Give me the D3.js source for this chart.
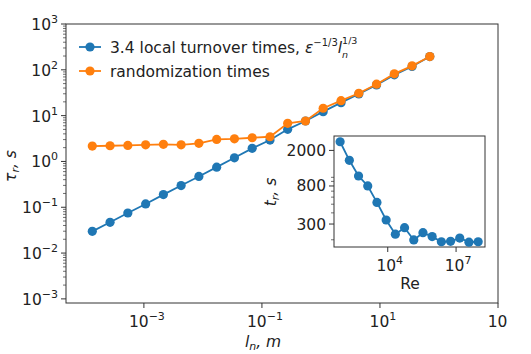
<!DOCTYPE html>
<html>
<head>
<meta charset="utf-8">
<script src="https://cdn.jsdelivr.net/npm/d3@7"></script>
<style>
  body { margin: 0; background: #fff; }
  text { font-family: "DejaVu Sans", sans-serif; fill: #222; }
</style>
</head>
<body>
<div id="chart"></div>
<script>
// scale lengths l_n (m), halving each step
const lengths = [0.0001335, 0.000267, 0.000534, 0.00107, 0.00214, 0.00427, 0.00854, 0.0171, 0.0342, 0.0684,
                 0.137, 0.273, 0.547, 1.09, 2.19, 4.38, 8.75, 17.5, 35, 70];
// local turnover times (s)
const turnover = [0.0298, 0.0469, 0.075, 0.118, 0.189, 0.298, 0.47, 0.75, 1.2, 1.93,
                  2.93, 5.02, 7.63, 12.2, 19.2, 29.8, 46.9, 77.6, 118, 195];
// randomization times (s)
const randomization = [2.16, 2.2, 2.24, 2.31, 2.36, 2.31, 2.48, 3.03, 3.12, 3.29,
                       3.46, 6.79, 7.63, 14.5, 21.2, 30.8, 48.5, 81.6, 122, 195];
// inset: Reynolds number vs t_r
const reynolds = [81, 206, 522, 1324, 3357, 8511, 21580, 54700, 138700, 351600,
                  891000, 2.26e6, 5.73e6, 1.45e7, 3.68e7, 9.33e7];
const insetTimes = [2500, 1550, 1035, 800, 524, 333, 231, 273, 199, 240,
                    217, 190, 192, 209, 188, 190];
const xTicks = [1e-3, 1e-1, 1e1, 1e3];
const xTickExp = ["−3", "−1", "1", "3"];
const yTicks = [1e-3, 1e-2, 1e-1, 1, 1e1, 1e2, 1e3];
const yTickExp = ["−3", "−2", "−1", "0", "1", "2", "3"];
const insetXTicks = [1e4, 1e7];
const insetXExp = ["4", "7"];
const insetYTicks = [300, 800, 2000];
const insetYMinor = [200, 400, 500, 600, 700, 900, 1000];

const blue = "#1f77b4", orange = "#ff7f0e", axisColor = "#333";
const W = 531, H = 354;
const FS = 15.5, FSS = 11;

const svg = d3.select("#chart").append("svg").attr("width", W).attr("height", H);

// clip for the right-edge tick label
svg.append("clipPath").attr("id", "pageclip")
  .append("rect").attr("x", 0).attr("y", 0).attr("width", 507).attr("height", H);

const x = d3.scaleLog().domain([Math.pow(10, -4.32), 1e3]).range([66, 498]);
const y = d3.scaleLog().domain([Math.pow(10, -3.09), 1e3]).range([303, 24]);

function powLabel(g, px, py, exp) {
  const t = g.append("text").attr("x", px).attr("y", py).attr("font-size", FS);
  t.append("tspan").text("10");
  t.append("tspan").attr("dy", -7).attr("font-size", FSS).text(exp);
  return t;
}

// main axes frame
const frame = svg.append("g");
frame.append("rect").attr("x", 66).attr("y", 24).attr("width", 432).attr("height", 279)
  .attr("fill", "none").attr("stroke", axisColor).attr("stroke-width", 1);

// y ticks (major + minor)
yTicks.forEach((v, i) => {
  frame.append("line").attr("x1", 66).attr("x2", 61).attr("y1", y(v)).attr("y2", y(v))
    .attr("stroke", axisColor);
  const t = powLabel(frame, 0, y(v) + 6, yTickExp[i]);
  const bb = t.node().getBBox();
  t.attr("x", 58 - bb.width);
});
yTicks.slice(0, -1).forEach(v => {
  for (let m = 2; m <= 9; m++) {
    const yy = y(v * m);
    frame.append("line").attr("x1", 66).attr("x2", 63).attr("y1", yy).attr("y2", yy)
      .attr("stroke", axisColor).attr("stroke-width", 0.7);
  }
});

// x ticks
const xg = svg.append("g").attr("clip-path", "url(#pageclip)");
xTicks.forEach((v, i) => {
  xg.append("line").attr("x1", x(v)).attr("x2", x(v)).attr("y1", 303).attr("y2", 308)
    .attr("stroke", axisColor);
  const t = powLabel(xg, x(v), 327, xTickExp[i]);
  const bb = t.node().getBBox();
  t.attr("x", x(v) - bb.width / 2 + 3);
});

// axis labels
const xl = svg.append("text").attr("x", 263).attr("y", 347).attr("text-anchor", "middle")
  .attr("font-size", FS).attr("font-style", "italic");
xl.append("tspan").text("l");
xl.append("tspan").attr("font-size", FSS).attr("dy", 3).text("n");
xl.append("tspan").attr("dy", -3).text(", m");

const yl = svg.append("text").attr("transform", "translate(16,166) rotate(-90)")
  .attr("text-anchor", "middle").attr("font-size", FS).attr("font-style", "italic");
yl.append("tspan").text("τ");
yl.append("tspan").attr("font-size", FSS).attr("dy", 3).text("r");
yl.append("tspan").attr("dy", -3).text(", s");

// series
const line = d3.line().x(d => x(d[0])).y(d => y(d[1]));
function series(vals, color) {
  const pts = lengths.map((l, i) => [l, vals[i]]);
  svg.append("path").datum(pts).attr("d", line).attr("fill", "none")
    .attr("stroke", color).attr("stroke-width", 1.8);
  svg.append("g").selectAll("circle").data(pts).join("circle")
    .attr("cx", d => x(d[0])).attr("cy", d => y(d[1])).attr("r", 4.6).attr("fill", color);
}
series(turnover, blue);
series(randomization, orange);

// legend
const legend = svg.append("g");
[[blue, 47], [orange, 71]].forEach(([c, ly]) => {
  legend.append("line").attr("x1", 79).attr("x2", 101).attr("y1", ly).attr("y2", ly)
    .attr("stroke", c).attr("stroke-width", 1.8);
  legend.append("circle").attr("cx", 90).attr("cy", ly).attr("r", 4.6).attr("fill", c);
});
const l1 = legend.append("text").attr("x", 110).attr("y", 52.5).attr("font-size", FS);
l1.append("tspan").text("3.4 local turnover times, ");
l1.append("tspan").attr("font-style", "italic").text("ε");
l1.append("tspan").attr("font-size", 10).attr("dy", -7).text("−1/3");
l1.append("tspan").attr("font-style", "italic").attr("dy", 7).text("l");
l1.append("tspan").attr("font-size", 9.5).attr("font-style", "italic").attr("dy", 5).text("n");
// superscript over the subscript, as its own text so the two stack cleanly
const lBox = l1.node().getBBox();
legend.append("text").attr("x", lBox.x + lBox.width - 6).attr("y", 43.5)
  .attr("font-size", 9.5).text("1/3");
legend.append("text").attr("x", 110).attr("y", 76.5).attr("font-size", FS).text("randomization times");

// inset
const ix = d3.scaleLog().domain([Math.pow(10, 1.64), Math.pow(10, 8.27)]).range([334, 485]);
const iy = d3.scaleLog().domain([166, 2900]).range([247, 136]);
const inset = svg.append("g");
inset.append("rect").attr("x", 334).attr("y", 136).attr("width", 151).attr("height", 111)
  .attr("fill", "#fff").attr("stroke", axisColor).attr("stroke-width", 1);
insetYTicks.forEach(v => {
  inset.append("line").attr("x1", 334).attr("x2", 329).attr("y1", iy(v)).attr("y2", iy(v))
    .attr("stroke", axisColor);
  inset.append("text").attr("x", 326).attr("y", iy(v) + 5.5).attr("text-anchor", "end")
    .attr("font-size", FS).text(v);
});
insetYMinor.forEach(v => {
  inset.append("line").attr("x1", 334).attr("x2", 331).attr("y1", iy(v)).attr("y2", iy(v))
    .attr("stroke", axisColor).attr("stroke-width", 0.7);
});
insetXTicks.forEach((v, i) => {
  inset.append("line").attr("x1", ix(v)).attr("x2", ix(v)).attr("y1", 247).attr("y2", 252)
    .attr("stroke", axisColor);
  const t = powLabel(inset, ix(v), 271, insetXExp[i]);
  const bb = t.node().getBBox();
  t.attr("x", ix(v) - bb.width / 2 + 2);
});
inset.append("text").attr("x", 410).attr("y", 289).attr("text-anchor", "middle")
  .attr("font-size", FS).text("Re");
const iyl = inset.append("text").attr("transform", "translate(276,192) rotate(-90)")
  .attr("text-anchor", "middle").attr("font-size", FS).attr("font-style", "italic");
iyl.append("tspan").text("t");
iyl.append("tspan").attr("font-size", FSS).attr("dy", 3).text("r");
iyl.append("tspan").attr("dy", -3).text(", s");

const ipts = reynolds.map((r, i) => [r, insetTimes[i]]);
inset.append("path").datum(ipts)
  .attr("d", d3.line().x(d => ix(d[0])).y(d => iy(d[1])))
  .attr("fill", "none").attr("stroke", blue).attr("stroke-width", 1.8);
inset.append("g").selectAll("circle").data(ipts).join("circle")
  .attr("cx", d => ix(d[0])).attr("cy", d => iy(d[1])).attr("r", 4.6).attr("fill", blue);
</script>
</body>
</html>
